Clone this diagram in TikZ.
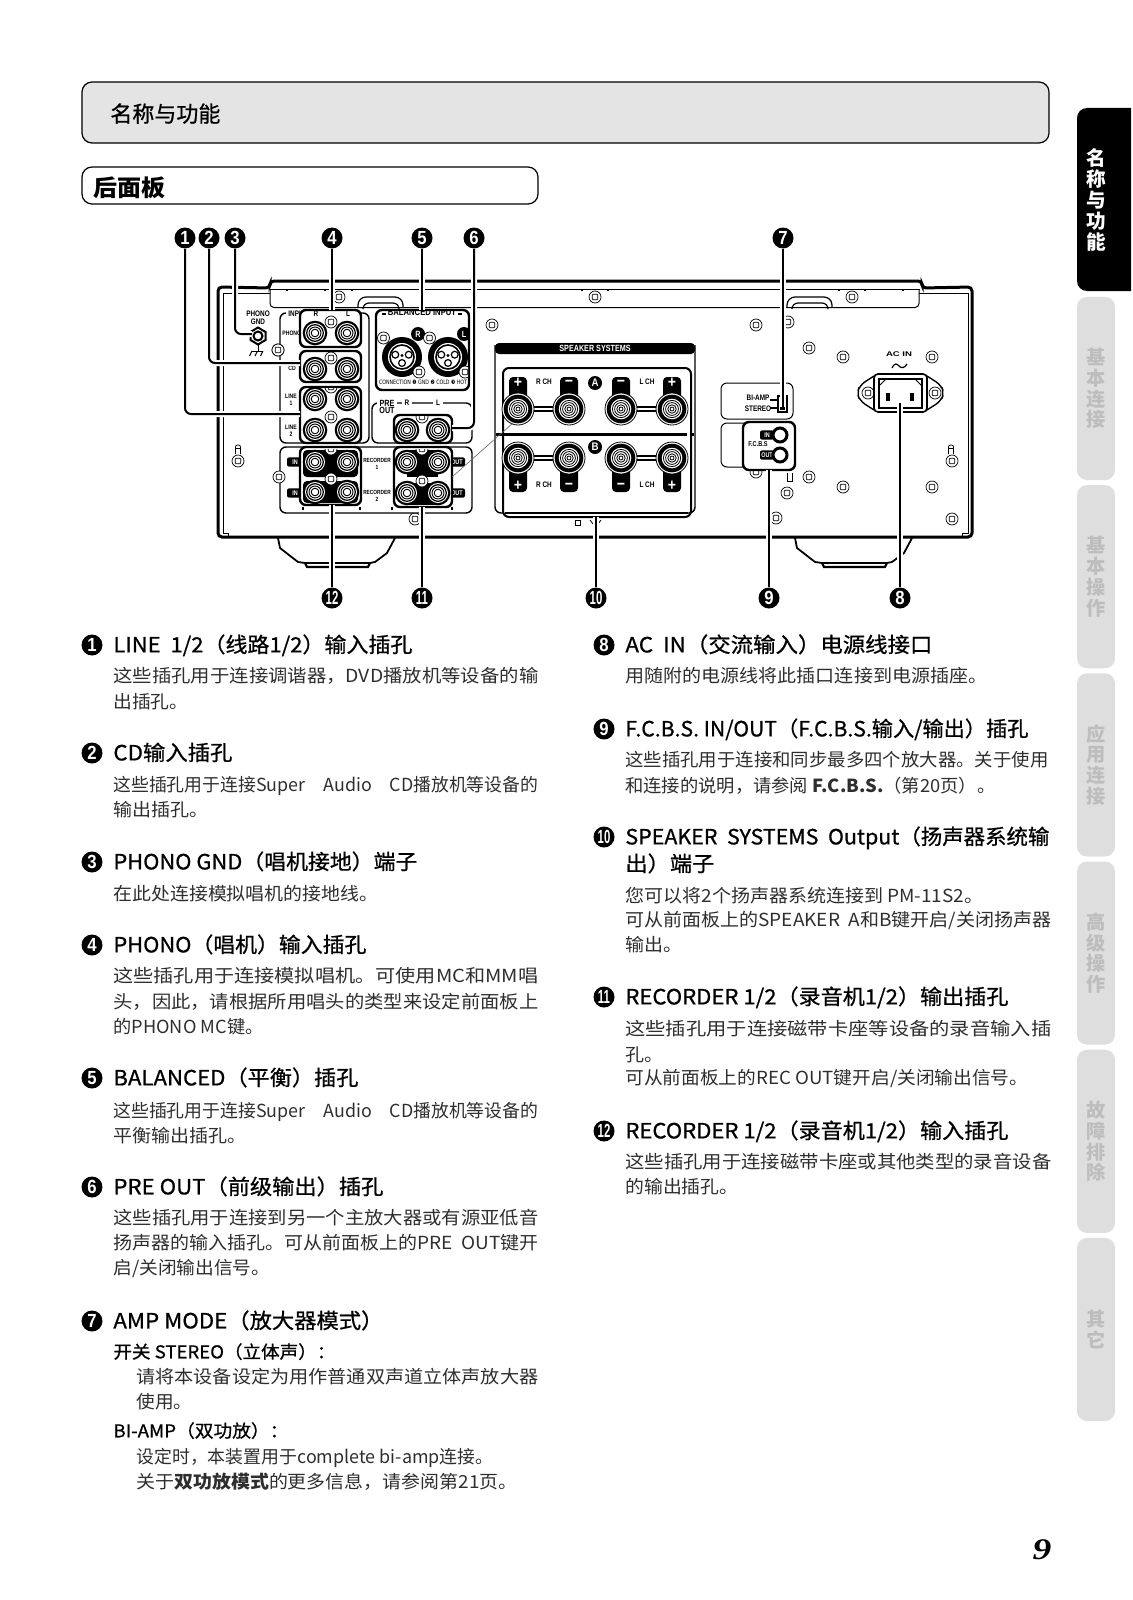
\documentclass[tikz,border=0pt]{standalone}
\usepackage{fontspec}
\usepackage{graphicx}
\setmainfont{Noto Sans CJK SC}
\newfontfamily\headfont[FakeBold=0.8]{Noto Sans CJK SC}
\newfontfamily\panelfont[FakeStretch=0.8]{Liberation Sans}
\newfontfamily\badgefont[FakeStretch=0.88]{Liberation Sans}
\newfontfamily\symfont{DejaVu Sans}
\newfontfamily\numfont{Liberation Serif}
\definecolor{tabgray}{gray}{.87}
\definecolor{tabtext}{gray}{.74}
\definecolor{barfill}{gray}{.895}

\tikzset{
    badge/.style={circle,fill=black,text=white,inner sep=0pt,minimum size=10.5pt,
        font=\badgefont\bfseries\fontsize{9.5}{9.5}\selectfont},
    leader/.style={line width=1pt,preaction={draw=white,line width=3pt}},
    jackbox/.style={draw,fill=white,line width=1.2pt,rounded corners=3pt},
    thinpanel/.style={draw,line width=.7pt,rounded corners=3pt},
    panel/.style={inner sep=0pt,align=center,font=\panelfont\bfseries\fontsize{4}{4}\selectfont},
    smallpanel/.style={panel,font=\panelfont\bfseries\fontsize{3.2}{3.4}\selectfont},
    whitepanel/.style={panel,text=white,font=\panelfont\bfseries\fontsize{4.5}{4.5}\selectfont},
    pill/.style={fill=black,text=white,inner sep=0pt,rounded corners=1pt,minimum height=4.6pt,
        font=\panelfont\bfseries\fontsize{3.4}{3.4}\selectfont},
    headtxt/.style={anchor=base west,inner sep=0pt,font=\headfont\fontsize{10.5}{11}\selectfont},
    bodytxt/.style={anchor=base west,inner sep=0pt,text=black!82,font=\fontsize{9}{10}\selectfont},
    subtxt/.style={anchor=base west,inner sep=0pt,font=\headfont\fontsize{8.8}{10}\selectfont},
    sidetab/.style={fill=tabgray,text=tabtext,rounded corners=5pt,inner sep=0pt,
        minimum width=19pt,minimum height=91.6pt,align=center,
        font=\bfseries\fontsize{9.6}{10.4}\selectfont},
    screw/.pic={
        \draw[fill=white,line width=.35pt] (0,0) circle (6);
        \draw[line width=.4pt,rounded corners=.5pt] (-2.8,-2.8) rectangle (2.8,2.8);
    },
    jack/.pic={
        \fill[black] (0,0) circle (12.3);
        \fill[white] (0,0) circle (10);
        \draw[line width=.6pt] (0,0) circle (8.3);
        \draw[line width=.45pt] (0,0) circle (6);
        \draw[line width=.45pt] (0,0) circle (3.8);
    },
    post/.pic={
        \draw[fill=white,line width=.4pt] (0,0) circle (16);
        \fill[black] (0,0) circle (14.3);
        \fill[white] (0,0) circle (10.3);
        \draw[line width=.4pt] (0,0) circle (8.6);
        \draw[line width=.4pt] (0,0) circle (6.4);
        \draw[line width=.4pt] (0,0) circle (4.2);
        \draw[line width=.4pt] (0,0) circle (2);
    },
    xlr/.pic={
        \fill[black] (0,0) circle (20);
        \fill[white] (0,0) circle (14);
        \draw[line width=.8pt] (0,0) circle (12);
        \foreach \a/\b in {-6.7/-2.3,6.7/-2.3,0/6} {
            \draw[line width=.6pt] (\a,\b) circle (3.4);
        }
        \draw[line width=.4pt] (0,-1.5) circle (1);
    },
}

\newcounter{txtno}
% style, x, y, right end of the line, text
\newcommand{\fittext}[5]{%
    \stepcounter{txtno}%
    \pgfmathsetmacro\fitw{(#4-#2)*0.5}%
    \node[#1] (txt\arabic{txtno}) at (#2,#3) {\resizebox{\fitw pt}{\height}{#5}};}
\newcommand{\itemhead}[4]{\fittext{headtxt}{#1}{#2+7.4}{#3}{#4}}
\newcommand{\itembody}[4]{\fittext{bodytxt}{#1}{#2+6.3}{#3}{#4}}
\newcommand{\itemsub}[4]{\fittext{subtxt}{#1}{#2+6.3}{#3}{#4}}

\begin{document}
\begin{tikzpicture}[x=.5pt,y=-.5pt]
    \useasboundingbox (0,0) rectangle (1132,1600);

    % headers
    \draw[fill=barfill,line width=.6pt,rounded corners=5pt] (82,82) rectangle (1049,143);
    \node[anchor=base west,inner sep=0pt,font=\headfont\fontsize{11}{12}\selectfont] (pagetitle) at (110,122) {\resizebox{55pt}{\height}{名称与功能}};
    \draw[line width=.6pt,rounded corners=5pt] (82,167) rectangle (538,204);
    \node[anchor=base west,inner sep=0pt,font=\bfseries\fontsize{11.5}{12}\selectfont] (subtitle) at (93,196) {\resizebox{36pt}{\height}{后面板}};

    % side tabs
    \fill[black,rounded corners=5pt] (1131,108) [sharp corners] -- (1131,108) [rounded corners=5pt] -- (1077,108) -- (1077,291) [sharp corners] -- (1131,291) -- cycle;
    \node[text=white,inner sep=0pt,align=center,font=\bfseries\fontsize{9.8}{10.4}\selectfont] (tab0) at (1096,200) {名\\称\\与\\功\\能};
    \node[sidetab] (tab1) at (1096,388.5) {基\\本\\连\\接};
    \node[sidetab] (tab2) at (1096,576.7) {基\\本\\操\\作};
    \node[sidetab] (tab3) at (1096,764.9) {应\\用\\连\\接};
    \node[sidetab] (tab4) at (1096,953.1) {高\\级\\操\\作};
    \node[sidetab] (tab5) at (1096,1141.3) {故\\障\\排\\除};
    \node[sidetab] (tab6) at (1096,1329.5) {其\\它};

    % feet
    \foreach \d in {0,517} {
        \begin{scope}[shift={(\d,0)}]
            \draw[line width=.9pt,line join=round] (278,538) -- (280,548) -- (298,562) -- (305,563) -- (370,563) -- (375,562) -- (387,553) -- (395,538);
            \draw[line width=1.1pt] (305,563) -- (307,567) -- (368,567) -- (370,563);
        \end{scope}
    }
    % chassis
    \draw[fill=white,line width=1.5pt,rounded corners=2pt] (218,287) -- (270,288) -- (270,281) -- (922,281) -- (922,288) -- (972,287) -- (972,537) -- (218,537) -- cycle;
    \draw[line width=.5pt] (228,537) -- (228,533) -- (223,533) -- (223,293) -- (270,293);
    \draw[line width=.5pt] (919,293) -- (968,293) -- (968,533) -- (962,533) -- (962,537);
    \draw[line width=.5pt] (270,289) -- (920,289);
    \draw[line width=.5pt,rounded corners=2pt] (270,289) -- (270,307.5) -- (919,307.5) -- (919,289);
    \foreach \x in {287,325,352,582,608,839,865,903} {
        \fill (\x-1,289) rectangle (\x+1,291);
    }
    \foreach \x in {358,787} {
        \draw[line width=.6pt,rounded corners=4pt] (\x,307.5) -- (\x,297) -- (\x+45,297) -- (\x+45,307.5);
        \draw[line width=.6pt,rounded corners=3pt] (\x+5,307.5) -- (\x+5,303) -- (\x+41,303) -- (\x+41,307.5);
    }
    \foreach \x/\y in {339/297,595/297,852/297,492/325,756/325,788/322,809/348,843/357,932/357,278/350,238/461,952/461,415/519,756/472,809/477,787/493,843/487,932/487,952/519,776/518} {
        \pic at (\x,\y) {screw};
    }
    \foreach \x in {238,951} {
        \draw[line width=.4pt,rounded corners=1pt] (\x-2.5,454) -- (\x-2.5,445) -- (\x+2.5,445) -- (\x+2.5,454);
        \draw[line width=.4pt] (\x-2.5,448) -- (\x+2.5,448);
    }

    % phono ground
    \node[panel] (lblgnd) at (258,318) {PHONO\\GND};
    \draw[line width=1pt,fill=white] (258,327.5) -- (265.5,332) -- (265.5,340) -- (258,344.5) -- (250.5,340) -- (250.5,332) -- cycle;
    \draw[line width=1pt] (258,336) circle (4.5);
    \draw[line width=.5pt] (258,344.5) -- (258,351);
    \draw[line width=.5pt] (252,351) -- (263,351);
    \foreach \x in {252,257.5,263} {
        \draw[line width=.5pt] (\x,351) -- (\x-2.5,356);
    }

    % input panels
    \draw[thinpanel] (280,313) rectangle (369,443);
    \pic at (278,350) {screw};
    \node[panel,anchor=west,fill=white,inner xsep=1pt] (lblinput) at (286,314) {INPUT};
    \node[smallpanel,anchor=west] (lblphono) at (282,333) {PHONO};
    \node[smallpanel] (lblcd) at (292,368) {CD};
    \node[smallpanel] (lblline1) at (291,400) {LINE\\1};
    \node[smallpanel] (lblline2) at (291,431) {LINE\\2};
    \draw[jackbox] (300,310) rectangle (361,347);
    \draw[jackbox] (300,351) rectangle (361,382);
    \draw[jackbox] (300,387) rectangle (361,443);
    \begin{scope}
        \clip (300,311.5) rectangle (361,347);
        \node[panel] (lblphonor) at (316,313.5) {R};
        \node[panel] (lblphonol) at (348,313.5) {L};
    \end{scope}
    \pic at (331,322) {screw};
    \pic at (331,358) {screw};
    \pic at (331,417) {screw};
    \begin{scope}
        \clip (300,388) rectangle (361,400);
        \pic at (331,387) {screw};
    \end{scope}
    \foreach \x/\y in {315/333,347/333,315/369,347/369,315/399,347/399,315/430,347/430} {
        \pic at (\x,\y) {jack};
    }

    % balanced inputs
    \draw[jackbox] (376,310) rectangle (469,390);
    \begin{scope}
        \clip[rounded corners=3pt] (376,311) rectangle (468,389);
        \node[panel,font=\panelfont\bfseries\fontsize{4.8}{4.8}\selectfont] (lblbal) at (422,312.5) {BALANCED INPUT};
        \draw[line width=.6pt] (382,314) -- (386,314);
        \draw[line width=.6pt] (458,314) -- (462,314);
        \foreach \x in {402,448} {
            \fill (\x+16,334) circle (7);
            \pic at (\x,357) {xlr};
            \pic at (\x-18.5,338) {screw};
            \pic at (\x+17,372) {screw};
        }
        \node[whitepanel] (lblxlrr) at (418,334) {R};
        \node[whitepanel] (lblxlrl) at (464,334) {L};
    \end{scope}
    \node[inner sep=0pt,font=\symfont\fontsize{3}{3}\selectfont] (lblconn) at (423,382) {\resizebox{44pt}{\height}{CONNECTION ❶ GND ❷ COLD ❸ HOT}};

    % pre out
    \draw[thinpanel] (372,403) rectangle (472,443);
    \node[panel,anchor=west,fill=white,inner xsep=1pt,font=\panelfont\bfseries\fontsize{4.5}{3.7}\selectfont] (lblpre) at (377,407) {PRE\\OUT};
    \node[panel,fill=white,inner xsep=1.5pt] (lblprer) at (407,403) {R};
    \node[panel,fill=white,inner xsep=1.5pt] (lblprel) at (438,403) {L};
    \draw[jackbox] (394,415) rectangle (452,443);
    \begin{scope}
        \clip (394,416) rectangle (452,443);
        \pic at (422,417) {screw};
    \end{scope}
    \foreach \x in {407,438} {
        \pic at (\x,430) {jack};
    }

    % recorder panel
    \draw[thinpanel,fill=white] (280,447) rectangle (472,513);
    \pic at (279,477) {screw};
    \foreach \y in {462,493} {
        \node[pill,minimum width=8pt] (pillin\y) at (295,\y) {IN};
        \node[pill,minimum width=8pt] (pillout\y) at (457,\y) {OUT};
    }
    \node[smallpanel,font=\panelfont\bfseries\fontsize{3}{3.4}\selectfont] (lblrec1) at (377,464) {RECORDER\\1};
    \node[smallpanel,font=\panelfont\bfseries\fontsize{3}{3.4}\selectfont] (lblrec2) at (377,496) {RECORDER\\2};
    \foreach \x in {303,360,392,452} {
        \fill (\x-1,507) rectangle (\x+1,510);
    }
    \draw[jackbox] (300,447) rectangle (361,505);
    \draw[jackbox] (394,447) rectangle (452,507);
    \fill[rounded corners=2pt] (303,450) rectangle (358,477);
    \fill[rounded corners=2pt] (303,481) rectangle (358,503);
    \fill (407,450) rectangle (438,477);
    \fill (407,483) rectangle (438,505);
    \pic at (331,479) {screw};
    \pic at (422,481) {screw};
    \begin{scope}
        \clip (300,449) rectangle (452,470);
        \pic at (331,449) {screw};
        \pic at (422,449) {screw};
    \end{scope}
    \foreach \x/\y in {315/462,347/462,315/492,347/492,407/462,438/462,407/493,438/493} {
        \pic at (\x,\y) {jack};
    }

    % speaker systems
    \draw[line width=.7pt,rounded corners=3pt] (495,345) -- (495,513) -- (503,513);
    \draw[line width=.7pt,rounded corners=3pt] (695,345) -- (695,513) -- (688,513);
    \fill[rounded corners=2pt] (495,343) rectangle (695,354);
    \node[whitepanel] (lblspk) at (595,348.5) {SPEAKER SYSTEMS};
    \draw[line width=1pt,rounded corners=3pt] (503,368) rectangle (691,517);
    \fill (496,432.5) rectangle (687,435.5);
    \fill (692,432.5) rectangle (694,435.5);
    \draw[line width=1pt] (505,513) -- (688,513);
    \foreach \x/\xx in {518/569,621/672} {
        \draw[line width=.6pt] (\x,407) -- (\xx,407);
        \draw[line width=.6pt] (\x,411) -- (\xx,411);
        \draw[line width=.6pt] (\x,456) -- (\xx,456);
        \draw[line width=.6pt] (\x,460) -- (\xx,460);
    }
    \foreach \x/\s in {518/+,569/−,621/−,672/+} {
        \fill[rounded corners=2pt] (\x-9,377) rectangle (\x+9,402);
        \fill[rounded corners=2pt] (\x-9,467) rectangle (\x+9,492);
        \pic at (\x,409) {post};
        \pic at (\x,458) {post};
        \node[inner sep=0pt,text=white,font=\badgefont\bfseries\fontsize{8}{8}\selectfont] (signa\x) at (\x,383) {\s};
        \node[inner sep=0pt,text=white,font=\badgefont\bfseries\fontsize{8}{8}\selectfont] (signb\x) at (\x,486) {\s};
    }
    \node[panel] (lblrcha) at (544,382) {R CH};
    \node[panel] (lbllcha) at (647,382) {L CH};
    \node[panel] (lblrchb) at (544,485) {R CH};
    \node[panel] (lbllchb) at (647,485) {L CH};
    \node[circle,fill=black,text=white,inner sep=0pt,minimum size=7pt,font=\badgefont\bfseries\fontsize{5.5}{5.5}\selectfont] (spka) at (595,383) {A};
    \node[circle,fill=black,text=white,inner sep=0pt,minimum size=7pt,font=\badgefont\bfseries\fontsize{5.5}{5.5}\selectfont] (spkb) at (595,447) {B};
    \draw[line width=.4pt] (575,520) -- (575,525) -- (580,525) -- (580,520) -- cycle;
    \draw[line width=.4pt] (590,520) -- (593,524);
    \draw[line width=.4pt] (601,520) -- (598,524);
    \coordinate (diagA) at (452,477);
    \coordinate (diagB) at (513,423);
    \draw[line width=.3pt,black!60] (diagA) -- (diagB);

    % amp mode and fcbs
    \draw[thinpanel,line width=.5pt] (721,383) rectangle (793,419);
    \node[panel] (lblbiamp) at (758,398) {BI-AMP};
    \node[panel] (lblstereo) at (758,409) {STEREO};
    \draw[line width=.6pt] (770,400) -- (778,400);
    \draw[line width=.6pt] (770,408) -- (778,408);
    \draw[line width=.7pt] (778,396) rectangle (787,412);
    \fill (780,403) rectangle (785,410);
    \draw[thinpanel,line width=.5pt] (721,423) rectangle (790,467);
    \draw[line width=.4pt] (787,473) -- (787,481) -- (792,481) -- (792,473);
    \draw[jackbox] (743,422) rectangle (795,470);
    \node[panel,font=\panelfont\bfseries\fontsize{3.5}{3.5}\selectfont] (lblfcbs) at (758,444.5) {F.C.B.S};
    \foreach \y/\t in {435/IN,455/OUT} {
        \node[pill,minimum width=7pt] (pill\t) at (767,\y) {\t};
        \draw[line width=1.5pt,fill=white] (780,\y) circle (7);
    }

    % ac inlet
    \node[inner sep=0pt,font=\panelfont\bfseries\fontsize{3.4}{3.4}\selectfont] (lblacin) at (899,354) {\resizebox{13pt}{\height}{AC IN}};
    \draw[line width=.6pt] (892,368) .. controls (895,362) and (897,364) .. (899,366) .. controls (901,368) and (904,369) .. (907,364);
    \draw[line width=.7pt,rounded corners=3pt] (874,376) -- (860,385) -- (857,393) -- (860,401) -- (874,410);
    \draw[line width=.7pt,rounded corners=3pt] (927,376) -- (941,385) -- (944,393) -- (941,401) -- (927,410);
    \pic at (868,393) {screw};
    \pic at (935,393) {screw};
    \draw[line width=.8pt,rounded corners=2pt] (874,374) rectangle (927,412);
    \draw[line width=.6pt] (879,379) rectangle (922,408);
    \draw[line width=.4pt] (879,386) -- (886,379);
    \draw[line width=.4pt] (922,386) -- (915,379);
    \fill (886,393) rectangle (890,401);
    \fill (910,393) rectangle (914,401);

    % leaders
    \node[badge] (b1) at (185,238) {1};
    \node[badge] (b2) at (209,238) {2};
    \node[badge] (b3) at (235,238) {3};
    \node[badge] (b4) at (332,238) {4};
    \node[badge] (b5) at (422,238) {5};
    \node[badge] (b6) at (474,238) {6};
    \node[badge] (b7) at (783,238) {7};
    \node[badge] (b8) at (900,598) {8};
    \node[badge] (b9) at (769,598) {9};
    \node[badge] (b10) at (596,598) {\scalebox{.68}[1]{10}};
    \node[badge] (b11) at (422,598) {\scalebox{.68}[1]{11}};
    \node[badge] (b12) at (332,598) {\scalebox{.68}[1]{12}};
    \coordinate (e1) at (300,414);
    \coordinate (e2) at (300,363);
    \coordinate (e3) at (252,334);
    \coordinate (e4) at (332,310);
    \coordinate (e5) at (422,310);
    \coordinate (e6) at (452,428);
    \coordinate (e7) at (783,407);
    \coordinate (e8) at (900,403);
    \coordinate (e9) at (769,470);
    \coordinate (e10) at (596,517);
    \coordinate (e11) at (422,507);
    \coordinate (e12) at (332,505);
    \draw[leader,rounded corners=3pt] (b1.south) |- (e1);
    \draw[leader,rounded corners=3pt] (b2.south) |- (e2);
    \draw[leader,rounded corners=3pt] (b3.south) |- (e3);
    \draw[leader] (b4.south) -- (e4);
    \draw[leader] (b5.south) -- (e5);
    \draw[leader,rounded corners=3pt] (b6.south) |- (e6);
    \draw[leader] (b7.south) -- (e7);
    \draw[leader] (b8.north) -- (e8);
    \draw[leader] (b9.north) -- (e9);
    \draw[leader] (b10.north) -- (e10);
    \draw[leader] (b11.north) -- (e11);
    \draw[leader] (b12.north) -- (e12);

    % left column
    \node[badge] (c1) at (92,645) {1};
    \itemhead{113}{645}{412}{LINE\ \ 1/2（线路1/2）输入插孔}
    \itembody{113}{676}{538}{这些插孔用于连接调谐器，DVD播放机等设备的输}
    \itembody{113}{702}{188}{出插孔。}
    \node[badge] (c2) at (92,753) {2};
    \itemhead{113}{753}{232}{CD输入插孔}
    \itembody{113}{785}{538}{这些插孔用于连接Super\quad Audio\quad CD播放机等设备的}
    \itembody{113}{810}{208}{输出插孔。}
    \node[badge] (c3) at (92,862) {3};
    \itemhead{113}{862}{417}{PHONO GND（唱机接地）端子}
    \itembody{113}{894}{378}{在此处连接模拟唱机的接地线。}
    \node[badge] (c4) at (92,945) {4};
    \itemhead{113}{945}{366}{PHONO（唱机）输入插孔}
    \itembody{113}{976}{538}{这些插孔用于连接模拟唱机。可使用MC和MM唱}
    \itembody{113}{1002}{538}{头，因此，请根据所用唱头的类型来设定前面板上}
    \itembody{113}{1027}{263}{的PHONO MC键。}
    \node[badge] (c5) at (92,1078) {5};
    \itemhead{113}{1078}{358}{BALANCED（平衡）插孔}
    \itembody{113}{1111}{538}{这些插孔用于连接Super\quad Audio\quad CD播放机等设备的}
    \itembody{113}{1136}{246}{平衡输出插孔。}
    \node[badge] (c6) at (92,1187) {6};
    \itemhead{113}{1187}{383}{PRE OUT（前级输出）插孔}
    \itembody{113}{1218}{538}{这些插孔用于连接到另一个主放大器或有源亚低音}
    \itembody{113}{1243}{538}{扬声器的输入插孔。可从前面板上的PRE\ \ OUT键开}
    \itembody{113}{1268}{270}{启/关闭输出信号。}
    \node[badge] (c7) at (92,1321) {7};
    \itemhead{113}{1321}{383}{AMP MODE（放大器模式）}
    \itemsub{113}{1352}{335}{开关 STEREO（立体声）：}
    \itembody{136}{1377}{538}{请将本设备设定为用作普通双声道立体声放大器}
    \itembody{136}{1402}{192}{使用。}
    \itemsub{113}{1431}{288}{BI-AMP（双功放）：}
    \itembody{136}{1457}{493}{设定时，本装置用于complete bi-amp连接。}
    \itembody{136}{1482}{517}{关于\textbf{双功放模式}的更多信息，请参阅第21页。}

    % right column
    \node[badge] (c8) at (604,645) {8};
    \itemhead{625}{645}{932}{AC\ \ IN（交流输入）电源线接口}
    \itembody{625}{676}{987}{用随附的电源线将此插口连接到电源插座。}
    \node[badge] (c9) at (604,729) {9};
    \itemhead{625}{729}{1028}{F.C.B.S. IN/OUT（F.C.B.S.输入/输出）插孔}
    \itembody{625}{760}{1048}{这些插孔用于连接和同步最多四个放大器。关于使用}
    \itembody{625}{786}{995}{和连接的说明，请参阅 \textbf{F.C.B.S.}（第20页）。}
    \node[badge] (c10) at (604,837) {\scalebox{.68}[1]{10}};
    \itemhead{625}{837}{1049}{SPEAKER\ \ SYSTEMS\ \ Output（扬声器系统输}
    \itemhead{625}{864}{714}{出）端子}
    \itembody{625}{896}{983}{您可以将2个扬声器系统连接到 PM-11S2。}
    \itembody{625}{920}{1051}{可从前面板上的SPEAKER\ \ A和B键开启/关闭扬声器}
    \itembody{625}{945}{682}{输出。}
    \node[badge] (c11) at (604,997) {\scalebox{.68}[1]{11}};
    \itemhead{625}{997}{1008}{RECORDER 1/2（录音机1/2）输出插孔}
    \itembody{625}{1029}{1051}{这些插孔用于连接磁带卡座等设备的录音输入插}
    \itembody{625}{1055}{663}{孔。}
    \itembody{625}{1078}{1028}{可从前面板上的REC OUT键开启/关闭输出信号。}
    \node[badge] (c12) at (604,1131) {\scalebox{.68}[1]{12}};
    \itemhead{625}{1131}{1008}{RECORDER 1/2（录音机1/2）输入插孔}
    \itembody{625}{1162}{1051}{这些插孔用于连接磁带卡座或其他类型的录音设备}
    \itembody{625}{1187}{738}{的输出插孔。}

    \node[inner sep=0pt,font=\numfont\bfseries\itshape\fontsize{15}{15}\selectfont] (pageno) at (1042,1550) {\scalebox{1.25}[1]{9}};
\end{tikzpicture}
\end{document}
